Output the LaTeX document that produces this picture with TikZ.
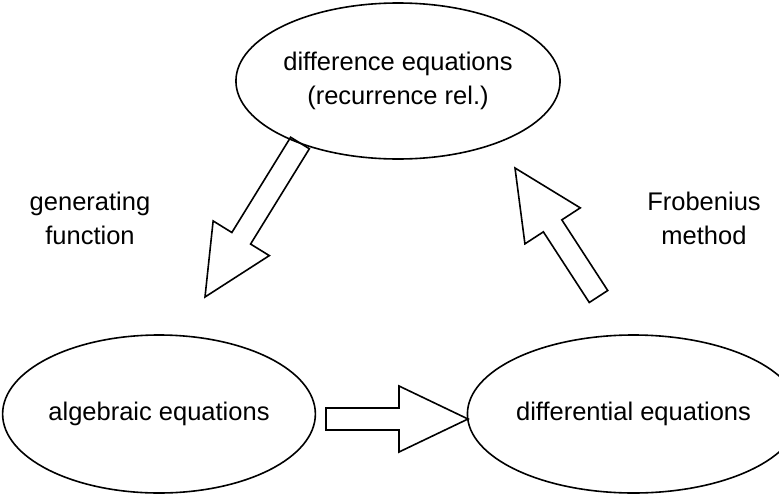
\documentclass[tikz,border=0pt]{standalone}
\usepackage{fontspec}
\setmainfont{Liberation Sans}
\usepackage{tikz}
\usetikzlibrary{positioning,shapes,calc}

\begin{document}
\begin{tikzpicture}
[x=1pt, y=-1pt, font=\fontsize{25.5}{34}\selectfont,
    eq/.style={ellipse, draw=black, line width=1.6pt, inner sep=0pt, align=center},
    lbl/.style={align=center},
    fat/.style={draw=black, line width=1.6pt, line join=miter}
    ]
    \useasboundingbox (0,0) rectangle (779,498);

    \node[eq, minimum width=300pt, minimum height=156pt] (diff) at (398,81) {difference equations\\(recurrence rel.)};
    \node[eq, minimum width=298pt, minimum height=158pt] (alg) at (159,414) {algebraic equations};
    \node[eq, minimum width=289pt, minimum height=158pt] (dif) at (633.5,414) {differential equations};

    \node[lbl] (gen) at (90,218) {generating\\function};
    \node[lbl] (frob) at (704,218) {Frobenius\\method};

    % block arrows: tail -> tip
    \coordinate (genTail) at (300,143);
    \coordinate (genTip) at (205,297);
    \coordinate (frobTail) at (598.5,296.5);
    \coordinate (frobTip) at (515,168);
    \coordinate (algTail) at (326,419);
    \coordinate (algTip) at (468,419);

    \foreach \s/\e in {genTail/genTip, frobTail/frobTip, algTail/algTip} {
        \coordinate (h) at ($(\e)!69pt!(\s)$);
        \draw[fat] ($(\s)!11pt!90:(\e)$) -- ($(h)!11pt!-90:(\s)$) -- ($(h)!33pt!-90:(\s)$)
            -- (\e) -- ($(h)!33pt!90:(\s)$) -- ($(h)!11pt!90:(\s)$) -- ($(\s)!11pt!-90:(\e)$) -- cycle;
    }
\end{tikzpicture}
\end{document}
